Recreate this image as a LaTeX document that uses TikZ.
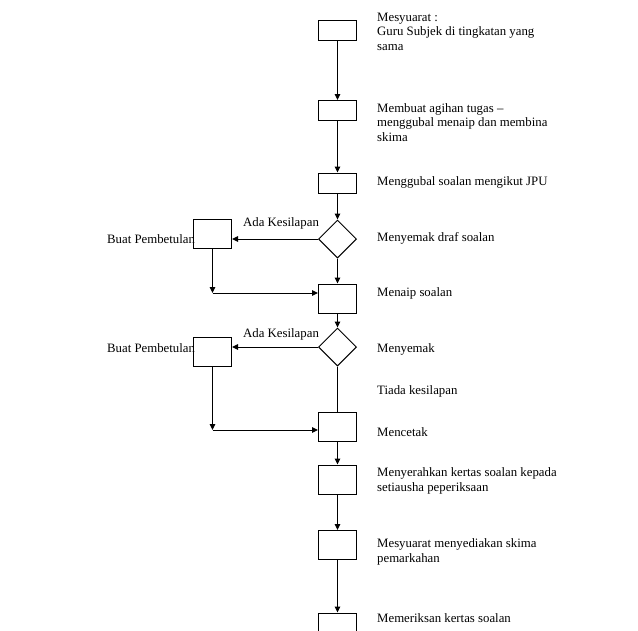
\documentclass[tikz,border=0pt]{standalone}
\usepackage{fontspec}
\setmainfont{Liberation Serif}
\usetikzlibrary{arrows.meta,shapes.geometric}

\begin{document}
\begin{tikzpicture}[
  x=1pt,
  y=-1pt,
  every node/.style={font=\fontsize{12.8}{14.2}\selectfont, black},
  stepbox/.style={draw, line width=1pt, inner sep=0pt,
                  minimum width=38pt, minimum height=20pt},
  tallbox/.style={stepbox, minimum height=29pt},
  checkpt/.style={draw, diamond, aspect=1, line width=1pt, inner sep=0pt,
                  minimum size=38pt},
  flow/.style={line width=1pt, -{Triangle[length=6pt, width=5.5pt]}},
  plain/.style={line width=1pt},
  note/.style={anchor=base west, inner sep=0pt, align=left}
]
  \useasboundingbox (0,0) rectangle (638,630);
  \clip (0,0) rectangle (638,630);

  % ---- main column ----
  \node[stepbox] (b1) at (337.5,30.5)  {};
  \node[stepbox] (b2) at (337.5,110.5) {};
  \node[stepbox] (b3) at (337.5,183)   {};
  \node[checkpt] (d1) at (337.5,239)   {};
  \node[tallbox] (b4) at (337.5,298.5) {};
  \node[checkpt] (d2) at (337.5,347)   {};
  \node[tallbox] (b5) at (337.5,427)   {};
  \node[tallbox] (b6) at (337.5,479.5) {};
  \node[tallbox] (b7) at (337.5,545)   {};
  \node[tallbox] (b8) at (337.5,627.5) {};

  % ---- correction boxes ----
  \node[tallbox] (p1) at (212.5,233.5) {};
  \node[tallbox] (p2) at (212.5,352)   {};
  \coordinate (c1) at (212.5,293);
  \coordinate (c2) at (212.5,430);

  % ---- main flow ----
  \draw[flow] (b1) -- (b2);
  \draw[flow] (b2) -- (b3);
  \draw[flow] (b3) -- (d1);
  \draw[flow] (d1) -- (b4);
  \draw[flow] (b4) -- (d2);
  \draw[plain] (d2) -- (b5);
  \draw[flow] (b5) -- (b6);
  \draw[flow] (b6) -- (b7);
  \draw[flow] (b7) -- (b8);

  % ---- error loops ----
  \draw[flow] (d1.west) -- (d1.west -| p1.east);
  \draw[flow] (p1.south) -- (c1);
  \draw[flow] (c1) -- (c1 -| b4.west);
  \draw[flow] (d2.west) -- (d2.west -| p2.east);
  \draw[flow] (p2.south) -- (c2);
  \draw[flow] (c2) -- (c2 -| b5.west);

  % ---- step texts (multi-line ones sit on their last line) ----
  \node[note] (t1) at (377,50)  {Mesyuarat :\\Guru Subjek di tingkatan yang\\sama};
  \node[note] (t2) at (377,141) {Membuat agihan tugas --\\menggubal menaip dan membina\\skima};
  \node[note] (t3) at (377,185) {Menggubal soalan mengikut JPU};
  \node[note] (t4) at (377,241) {Menyemak draf soalan};
  \node[note] (t5) at (377,296) {Menaip soalan};
  \node[note] (t6) at (377,352) {Menyemak};
  \node[note] (t7) at (377,394) {Tiada kesilapan};
  \node[note] (t8) at (377,436) {Mencetak};
  \node[note] (t9) at (377,491) {Menyerahkan kertas soalan kepada\\setiausha peperiksaan};
  \node[note] (t10) at (377,562) {Mesyuarat menyediakan skima\\pemarkahan};
  \node[note] (t11) at (377,622) {Memeriksan kertas soalan};

  % ---- side labels ----
  \node[note] (e1) at (243,226) {Ada Kesilapan};
  \node[note] (e2) at (243,337) {Ada Kesilapan};
  \node[note] (f1) at (107,243) {Buat Pembetulan};
  \node[note] (f2) at (107,352) {Buat Pembetulan};
\end{tikzpicture}
\end{document}
